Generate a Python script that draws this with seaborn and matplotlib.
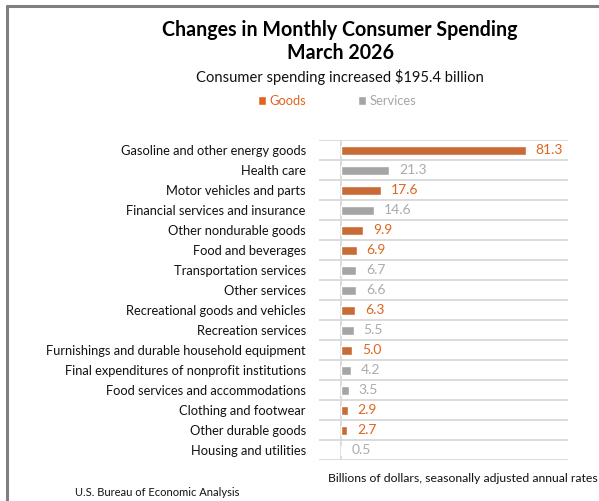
import numpy as np
import pandas as pd
import matplotlib
matplotlib.use('Agg')
import matplotlib.pyplot as plt
import seaborn as sns
from matplotlib.patches import Patch
from matplotlib.lines import Line2D

categories = [
    'Gasoline and other energy goods', 'Health care', 'Motor vehicles and parts',
    'Financial services and insurance', 'Other nondurable goods', 'Food and beverages',
    'Transportation services', 'Other services', 'Recreational goods and vehicles',
    'Recreation services', 'Furnishings and durable household equipment',
    'Final expenditures of nonprofit institutions', 'Food services and accommodations',
    'Clothing and footwear', 'Other durable goods', 'Housing and utilities',
]
values = [81.3, 21.3, 17.6, 14.6, 9.9, 6.9, 6.7, 6.6, 6.3, 5.5, 5.0, 4.2, 3.5, 2.9, 2.7, 0.5]
kinds = ['Goods', 'Services', 'Goods', 'Services', 'Goods', 'Goods', 'Services', 'Services',
         'Goods', 'Services', 'Goods', 'Services', 'Services', 'Goods', 'Goods', 'Services']

ORANGE = '#E0641E'
GRAY = '#A5A5A5'
LABEL_GRAY = '#ABABAB'
palette = {'Goods': ORANGE, 'Services': GRAY}

df = pd.DataFrame({'category': categories, 'value': values, 'kind': kinds})

sns.set_style('white')
plt.rcParams['font.family'] = ['Lato', 'DejaVu Sans']

fig = plt.figure(figsize=(5.99, 5.01), dpi=100)
ax = fig.add_axes([319 / 599, 1 - 460 / 501, 249 / 599, 320 / 501])

sns.barplot(data=df, y='category', x='value', hue='kind', palette=palette,
            dodge=False, width=0.45, legend=False, ax=ax, orient='h')

ax.set_xlim(-9.7, 100)
ax.set_ylim(len(categories) - 0.5, -0.5)
ax.set_xlabel('')
ax.set_ylabel('')
ax.set_xticks([])
for s in ax.spines.values():
    s.set_visible(False)

# row separators
for i in range(len(categories) + 1):
    ax.axhline(i - 0.5, color='#D9D9D9', lw=1.3, zorder=0)
ax.axvline(0, color='#D9D9D9', lw=1.3, zorder=0)

ax.tick_params(axis='y', length=0, pad=9.5, labelsize=9.3, labelcolor='#111111')

for i, (v, k) in enumerate(zip(values, kinds)):
    c = ORANGE if k == 'Goods' else LABEL_GRAY
    ax.text(v + 4.3, i, f'{v:.1f}', va='center', ha='left', fontsize=10, color=c)

fig.text(0.568, 1 - 30 / 501, 'Changes in Monthly Consumer Spending', ha='center', va='center',
         fontsize=14.1, fontweight='bold', color='#000000')
fig.text(0.568, 1 - 53 / 501, 'March 2026', ha='center', va='center',
         fontsize=14.1, fontweight='bold', color='#000000')
fig.text(0.568, 1 - 77 / 501, 'Consumer spending increased $195.4 billion', ha='center',
         va='center', fontsize=10.6, color='#111111')

handles = [Patch(facecolor=ORANGE, label='Goods'), Patch(facecolor=GRAY, label='Services')]
fig.legend(handles=handles, loc='center', bbox_to_anchor=(0.563, 1 - 101 / 501), ncol=2,
           frameon=False, fontsize=9.3, labelcolor=[ORANGE, GRAY], handlelength=0.6,
           handleheight=0.6, handletextpad=0.3, columnspacing=4.0)

fig.text(598 / 599, 1 - 478 / 501, 'Billions of dollars, seasonally adjusted annual rates',
         ha='right', va='center', fontsize=8.8, color='#111111')
fig.text(75 / 599, 1 - 492 / 501, 'U.S. Bureau of Economic Analysis', ha='left', va='center',
         fontsize=8, color='#111111')

# frame lines (top and left)
fig.add_artist(Line2D([7 / 599, 1], [1 - 6 / 501, 1 - 6 / 501], color='#7F7F7F', lw=2.2,
                      transform=fig.transFigure))
fig.add_artist(Line2D([7 / 599, 7 / 599], [0, 1 - 6 / 501], color='#7F7F7F', lw=2.2,
                      transform=fig.transFigure))

fig.savefig('out.png', dpi=100)
